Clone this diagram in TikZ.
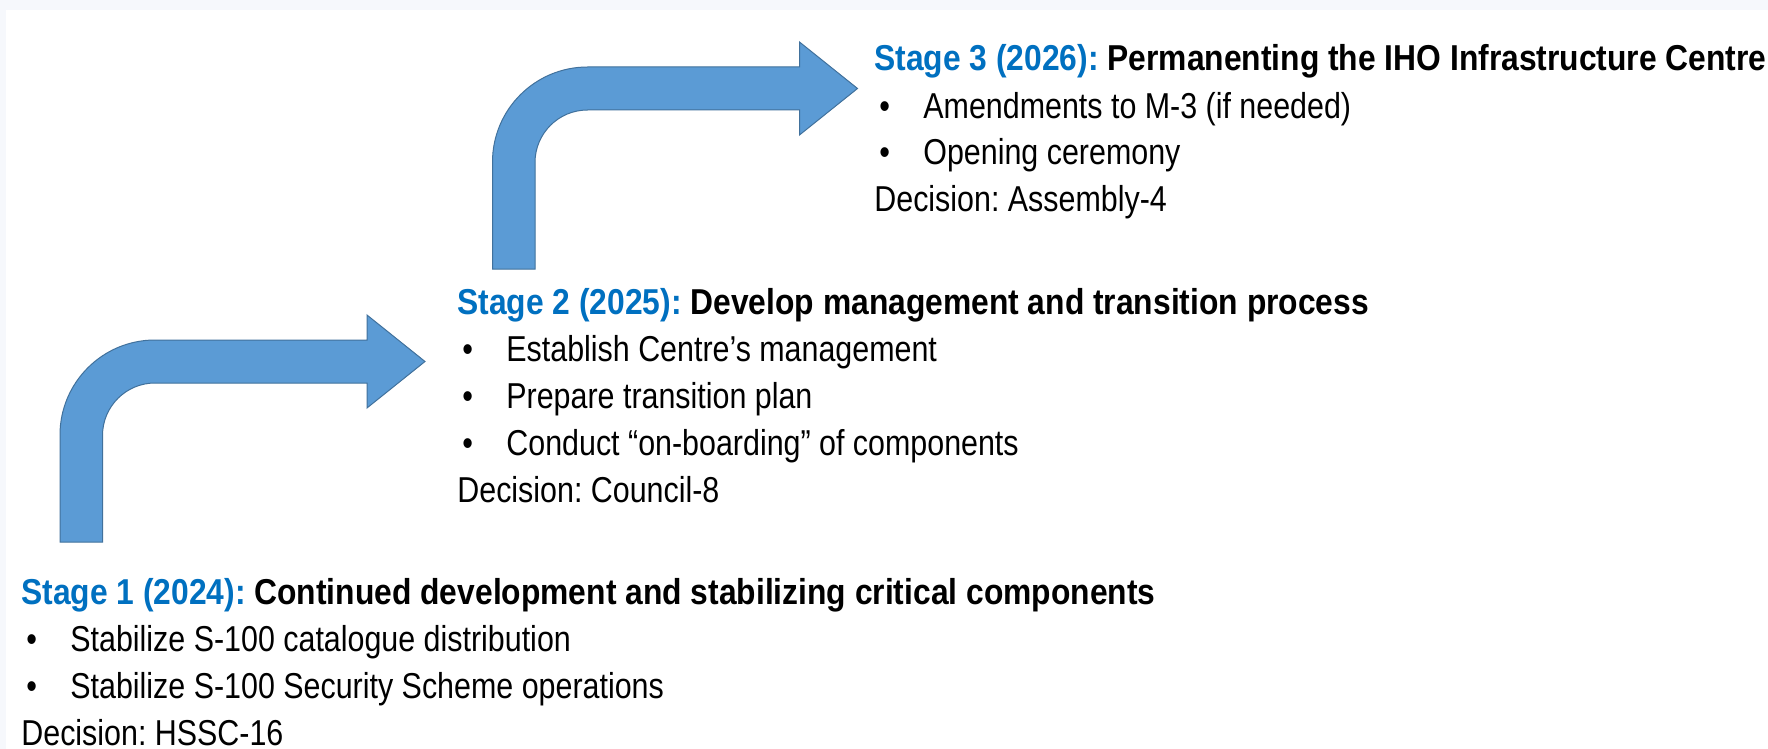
\documentclass[tikz,border=0pt]{standalone}
\usepackage{fontspec}
\setmainfont{Liberation Sans}[UprightFeatures={FakeStretch=0.845},
  BoldFeatures={FakeStretch=0.883}]
\definecolor{stageblue}{HTML}{0070C0}
\definecolor{arrowfill}{HTML}{5B9BD5}
\definecolor{arrowline}{HTML}{41719C}
\definecolor{pagegray}{HTML}{F6F8FC}
\newcommand{\stagetag}[1]{\textcolor{stageblue}{#1}}
\newcommand{\bul}{\makebox[24.5pt][l]{\hspace{2.5pt}\textbullet}}
\frenchspacing
\tikzset{
  stagetext/.style={anchor=base west, inner sep=0pt, align=left,
    font=\fontsize{18}{23.5}\selectfont},
  bentarrow/.style={fill=arrowfill, draw=arrowline, line width=0.5pt}
}
\begin{document}
\begin{tikzpicture}[x=0.5pt, y=-0.5pt]
  % page
  \fill[pagegray] (0,0) rectangle (1768,749);
  \fill[white] (6,10) rectangle (1768,749);
  \useasboundingbox (0,0) rectangle (1768,749);
  % bent arrows
  \foreach \dx/\dy in {0/0, 432.5/-273}
    \draw[bentarrow, shift={(\dx,\dy)}] (60,542) -- (60,435)
      arc[start angle=180, end angle=270, radius=95] -- (367,340) --
      (367,315) -- (425,361.5) -- (367,408) -- (367,383) -- (155,383)
      arc[start angle=270, end angle=180, radius=52.5] -- (102.5,542) -- cycle;
  % stages (anchored at the baseline of the last line)
  \node[stagetext] (stage3) at (874,212) {\textbf{\stagetag{Stage 3 (2026):} Permanenting the IHO Infrastructure Centre}\\
    \bul Amendments to M-3 (if needed)\\
    \bul Opening ceremony\\
    Decision: Assembly-4};
  \node[stagetext] (stage2) at (457,502) {\textbf{\stagetag{Stage 2 (2025):} Develop management and transition process}\\
    \bul Establish Centre’s management\\
    \bul Prepare transition plan\\
    \bul Conduct “on-boarding” of components\\
    Decision: Council-8};
  \node[stagetext] (stage1) at (21,745) {\textbf{\stagetag{Stage 1 (2024):} Continued development and stabilizing critical components}\\
    \bul Stabilize S-100 catalogue distribution\\
    \bul Stabilize S-100 Security Scheme operations\\
    Decision: HSSC-16};
\end{tikzpicture}
\end{document}
